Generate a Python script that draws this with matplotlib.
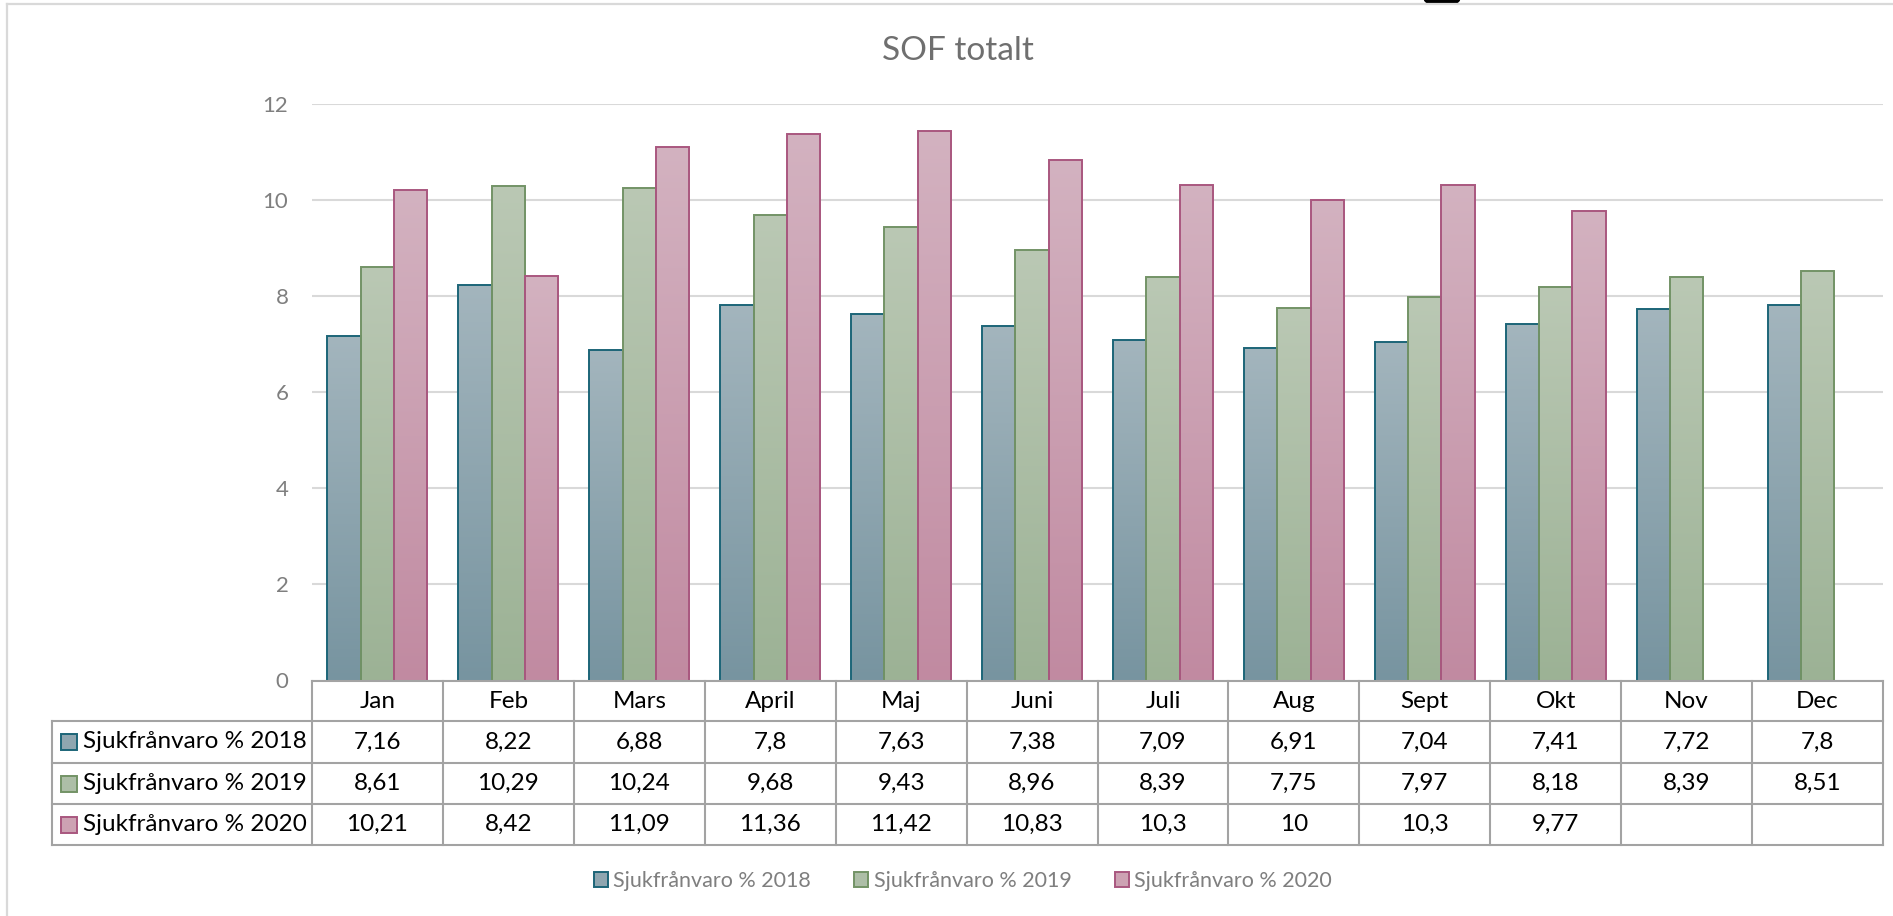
import numpy as np
import matplotlib
matplotlib.use("Agg")
import matplotlib.pyplot as plt
from matplotlib.patches import Rectangle, FancyBboxPatch
from matplotlib.colors import LinearSegmentedColormap
from matplotlib.lines import Line2D
import matplotlib.transforms as mtransforms

plt.rcParams['font.family'] = ['Lato', 'DejaVu Sans']

# ---------------- data ----------------
title = "SOF totalt"
months = ["Jan", "Feb", "Mars", "April", "Maj", "Juni", "Juli", "Aug", "Sept", "Okt", "Nov", "Dec"]
series_names = ["Sjukfrånvaro % 2018", "Sjukfrånvaro % 2019", "Sjukfrånvaro % 2020"]
v2018 = [7.16, 8.22, 6.88, 7.8, 7.63, 7.38, 7.09, 6.91, 7.04, 7.41, 7.72, 7.8]
v2019 = [8.61, 10.29, 10.24, 9.68, 9.43, 8.96, 8.39, 7.75, 7.97, 8.18, 8.39, 8.51]
v2020 = [10.21, 8.42, 11.09, 11.36, 11.42, 10.83, 10.3, 10, 10.3, 9.77, None, None]
yticks = [0, 2, 4, 6, 8, 10, 12]

series_values = [v2018, v2019, v2020]

# ---------------- styles ----------------
grad_colors = [("#7794a0", "#a3b5bd"), ("#9cb295", "#bac8b4"), ("#c18aa1", "#d3b2c0")]
edge_colors = ["#1c6578", "#739366", "#a9577f"]
mid_colors = ["#8fa6b0", "#adbea7", "#cda2b3"]

W, H, DPI = 1893, 916, 100
fig = plt.figure(figsize=(W / DPI, H / DPI), dpi=DPI)
fig.patch.set_facecolor("white")


def fx(x):
    return x / W


def fy(y):
    return 1 - y / H


AX_L, AX_R, AX_T, AX_B = 312, 1883, 103.5, 680.5
ax = fig.add_axes([fx(AX_L), fy(AX_B), fx(AX_R) - fx(AX_L), fy(AX_T) - fy(AX_B)])

# overlay axes in pixel coordinates for decorations / table
ov = fig.add_axes([0, 0, 1, 1], zorder=5)
ov.set_xlim(0, W)
ov.set_ylim(H, 0)
ov.axis("off")
ov.patch.set_alpha(0)

n = len(months)
bw = 0.2545
offsets = [-bw, 0, bw]
x = np.arange(n)
grad = np.linspace(0, 1, 256).reshape(-1, 1)

for vals, (cb, ct), ec, off in zip(series_values, grad_colors, edge_colors, offsets):
    xs = [xi + off for xi, v in zip(x, vals) if v is not None]
    hs = [v for v in vals if v is not None]
    bars = ax.bar(xs, hs, width=bw, facecolor="none", edgecolor=ec, linewidth=1.4, zorder=3)
    cmap = LinearSegmentedColormap.from_list("g", [cb, ct])
    for b in bars:
        x0, w, hh = b.get_x(), b.get_width(), b.get_height()
        im = ax.imshow(grad, extent=[x0, x0 + w, 0, hh], origin="lower", cmap=cmap,
                       aspect="auto", zorder=2, interpolation="bilinear")
        im.set_clip_path(b)

ax.set_xlim(-0.5, n - 0.5)
ax.set_ylim(0, 12)
ax.set_yticks(yticks)
ax.set_yticklabels([str(t) for t in yticks])
ax.set_xticks([])
ax.yaxis.grid(True, color="#d9d9d9", linewidth=1.5)
ax.set_axisbelow(True)
for s in ax.spines.values():
    s.set_visible(False)
ax.tick_params(axis="y", length=0, pad=17, labelsize=16, labelcolor="#7f7f7f")
ax.patch.set_alpha(0)

# ---------------- title ----------------
fig.text(fx(958), fy(51), title, ha="center", va="center", fontsize=24, color="#6f6f6f")

# ---------------- border & icon ----------------
ov.add_line(Line2D([7, W], [4, 4], color="#d9d9d9", lw=1.6))
ov.add_line(Line2D([7, 7], [4, H], color="#d9d9d9", lw=1.6))
ov.add_patch(FancyBboxPatch((1424, -10), 36, 13, boxstyle="round,pad=0,rounding_size=6",
                            facecolor="black", edgecolor="black", lw=1))

# ---------------- data table ----------------
tcol = "#a3a3a3"
tlw = 1.5
row_y = [681, 721, 763, 804, 845]
TBL_L = 52
bt = mtransforms.blended_transform_factory(ax.transData, ov.transData)

# horizontal lines
ov.add_line(Line2D([-0.5, n - 0.5], [row_y[0], row_y[0]], color=tcol, lw=tlw, transform=bt))
for yy in row_y[1:]:
    ov.add_line(Line2D([TBL_L, AX_R], [yy, yy], color=tcol, lw=tlw))
# vertical lines
for i in range(n + 1):
    ov.add_line(Line2D([i - 0.5, i - 0.5], [row_y[0], row_y[-1]], color=tcol, lw=tlw, transform=bt))
ov.add_line(Line2D([TBL_L, TBL_L], [row_y[1], row_y[-1]], color=tcol, lw=tlw))

tfs = 17.5
for i, m in enumerate(months):
    ov.text(i, (row_y[0] + row_y[1]) / 2, m, transform=bt, ha="center", va="center",
            fontsize=tfs, color="black")

for r, (name, vals) in enumerate(zip(series_names, series_values)):
    yc = (row_y[r + 1] + row_y[r + 2]) / 2
    ov.add_patch(Rectangle((61, yc - 8), 16, 16, facecolor=mid_colors[r],
                           edgecolor=edge_colors[r], lw=1.4))
    ov.text(83, yc, name, ha="left", va="center", fontsize=tfs, color="black")
    for i, v in enumerate(vals):
        if v is None:
            continue
        ov.text(i, yc, f"{v:g}".replace(".", ","), transform=bt, ha="center", va="center",
                fontsize=tfs, color="black")

# ---------------- legend ----------------
handles = [Rectangle((0, 0), 1, 1, facecolor=mc, edgecolor=ec, lw=1.4)
           for mc, ec in zip(mid_colors, edge_colors)]
lfs = 15.5
fig.legend(handles, series_names, loc="center", bbox_to_anchor=(fx(963), fy(881)), ncol=3,
           frameon=False, fontsize=lfs, labelcolor="#7f7f7f", handlelength=0.66,
           handleheight=0.66, handletextpad=0.25, columnspacing=2.0, borderpad=0)

fig.savefig("out.png", dpi=DPI, facecolor="white")
